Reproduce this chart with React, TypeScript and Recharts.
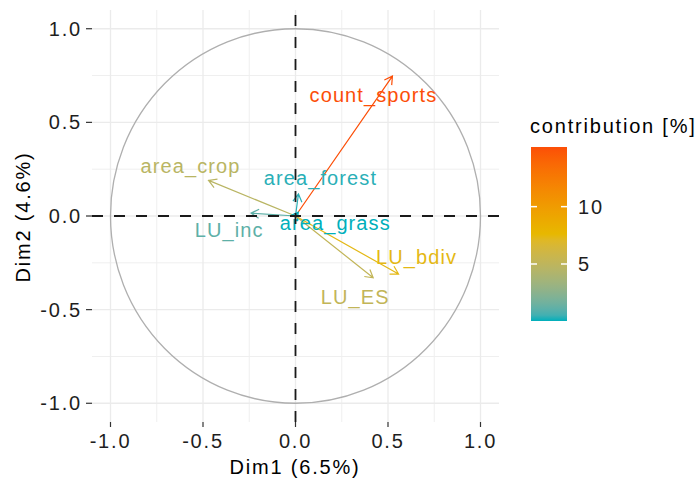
import React from 'react';
import { ComposedChart, XAxis, YAxis, Scatter, ReferenceLine } from 'recharts';

// ---------- data ----------
const variables = ['count_sports', 'area_crop', 'area_forest', 'LU_inc', 'area_grass', 'LU_bdiv', 'LU_ES'];
const dim1 = [0.524, -0.47, 0.016, -0.24, 0.015, 0.557, 0.42];
const dim2 = [0.747, 0.19, 0.118, 0.015, 0.02, -0.31, -0.33];
const contrib = [15.2, 4.7, 0.25, 1.1, 0.03, 7.4, 5.2];
const axisTicks = [-1, -0.5, 0, 0.5, 1];
const minorGrid = [-0.75, -0.25, 0.25, 0.75];
const legendTicks = [5, 10];
const circleRadius = 1;

// ---------- layout / style (not data) ----------
const labelOffsets: [number, number][] = [
  [-19, 26], [-18, -7], [22, -9], [-22, 24], [37, 18], [18, -10], [-18, 26],
];
const gradientCols = ['#00AFBB', '#E7B800', '#FC4E07'];
const FONT = '"Liberation Sans", Arial, Helvetica, sans-serif';

// ---------- colour (Lab interpolation like ggplot) ----------
const hexToRgb = (h: string) => [1, 3, 5].map((i) => parseInt(h.slice(i, i + 2), 16));
const toLin = (c: number) => { c /= 255; return c <= 0.04045 ? c / 12.92 : Math.pow((c + 0.055) / 1.055, 2.4); };
const fromLin = (c: number) => {
  const v = c <= 0.0031308 ? 12.92 * c : 1.055 * Math.pow(c, 1 / 2.4) - 0.055;
  return Math.max(0, Math.min(255, Math.round(v * 255)));
};
const WX = 0.95047, WY = 1, WZ = 1.08883;
const fLab = (t: number) => (t > 0.008856 ? Math.cbrt(t) : 7.787 * t + 16 / 116);
const fInv = (t: number) => (t * t * t > 0.008856 ? t * t * t : (t - 16 / 116) / 7.787);
const rgbToLab = (rgb: number[]) => {
  const [r, g, b] = rgb.map(toLin);
  const X = (0.4124 * r + 0.3576 * g + 0.1805 * b) / WX;
  const Y = (0.2126 * r + 0.7152 * g + 0.0722 * b) / WY;
  const Z = (0.0193 * r + 0.1192 * g + 0.9505 * b) / WZ;
  const fx = fLab(X), fy = fLab(Y), fz = fLab(Z);
  return [116 * fy - 16, 500 * (fx - fy), 200 * (fy - fz)];
};
const labToHex = (lab: number[]) => {
  const fy = (lab[0] + 16) / 116;
  const fx = fy + lab[1] / 500;
  const fz = fy - lab[2] / 200;
  const X = fInv(fx) * WX, Y = fInv(fy) * WY, Z = fInv(fz) * WZ;
  const r = 3.2406 * X - 1.5372 * Y - 0.4986 * Z;
  const g = -0.9689 * X + 1.8758 * Y + 0.0415 * Z;
  const b = 0.0557 * X - 0.204 * Y + 1.057 * Z;
  return '#' + [r, g, b].map((c) => fromLin(c).toString(16).padStart(2, '0')).join('');
};
const labCols = gradientCols.map((c) => rgbToLab(hexToRgb(c)));
const cMin = Math.min(...contrib);
const cMax = Math.max(...contrib);
const colorAt = (t: number) => {
  const tt = Math.max(0, Math.min(1, t)) * (labCols.length - 1);
  const i = Math.min(labCols.length - 2, Math.floor(tt));
  const f = tt - i;
  const a = labCols[i], b = labCols[i + 1];
  return labToHex(a.map((v, k) => v + (b[k] - v) * f));
};
const colorOf = (v: number) => colorAt((v - cMin) / (cMax - cMin));

const points = variables.map((name, i) => ({ name, x: dim1[i], y: dim2[i], c: contrib[i] }));

// ---------- shapes ----------
const ArrowShape = (p: any) => {
  const { x1, y1, x2, y2, stroke } = p;
  const ang = Math.atan2(y2 - y1, x2 - x1);
  const L = 9;
  const a1 = ang + Math.PI - Math.PI / 6;
  const a2 = ang + Math.PI + Math.PI / 6;
  const d = `M${x1},${y1}L${x2},${y2}M${x2 + L * Math.cos(a1)},${y2 + L * Math.sin(a1)}L${x2},${y2}L${x2 + L * Math.cos(a2)},${y2 + L * Math.sin(a2)}`;
  return <path d={d} stroke={stroke} strokeWidth={1.2} fill="none" strokeLinejoin="miter" />;
};

const CircleShape = (p: any) => {
  const { x1, y1, x2, y2 } = p;
  return <ellipse cx={x1} cy={y1} rx={Math.abs(x2 - x1)} ry={Math.abs(y1 - y2)} fill="none" stroke="#AFAFAF" strokeWidth={1.3} />;
};

const makeLabel = (i: number) => (p: any) => {
  const { x2, y2 } = p;
  return (
    <text x={x2 + labelOffsets[i][0]} y={y2 + labelOffsets[i][1]} textAnchor="middle" fill={colorOf(contrib[i])}
      fontSize={20} fontFamily={FONT} style={{ letterSpacing: '1.1px' }}>
      {variables[i]}
    </text>
  );
};

// ---------- colourbar legend ----------
const BAR = { x: 531, y: 147, w: 36, h: 174 };
const barY = (v: number) => BAR.y + BAR.h - ((v - cMin) / (cMax - cMin)) * BAR.h;
const barStops = Array.from({ length: 31 }, (_, k) => k / 30);

export default function App() {
  return (
    <div style={{ position: 'absolute', left: 0, top: 0, width: 699, height: 482, background: '#fff', fontFamily: FONT }}>
      <style>{`.recharts-cartesian-axis-tick-value{letter-spacing:1.8px;}`}</style>
      <ComposedChart width={699} height={482} margin={{ top: 10, right: 200, bottom: 0, left: 0 }}>
        <XAxis type="number" dataKey="x" domain={[-1.1, 1.1]} ticks={axisTicks} allowDataOverflow
          tickFormatter={(v: number) => v.toFixed(1)} height={60} axisLine={false}
          tickLine={{ stroke: '#333', strokeWidth: 1.2 }} tickSize={5} tickMargin={7}
          tick={{ fill: '#1e1e1e', fontSize: 20 }} interval={0} />
        <YAxis type="number" dataKey="y" domain={[-1.1, 1.1]} ticks={axisTicks} allowDataOverflow
          tickFormatter={(v: number) => v.toFixed(1)} width={92} axisLine={false}
          tickLine={{ stroke: '#333', strokeWidth: 1.2 }} tickSize={6} tickMargin={4}
          tick={{ fill: '#1e1e1e', fontSize: 20 }} interval={0} />
        {minorGrid.map((v) => (
          <ReferenceLine key={'mx' + v} x={v} stroke="#EFEFEF" strokeWidth={1} />
        ))}
        {minorGrid.map((v) => (
          <ReferenceLine key={'my' + v} y={v} stroke="#EFEFEF" strokeWidth={1} />
        ))}
        {axisTicks.map((v) => (
          <ReferenceLine key={'gx' + v} x={v} stroke="#EBEBEB" strokeWidth={1.3} />
        ))}
        {axisTicks.map((v) => (
          <ReferenceLine key={'gy' + v} y={v} stroke="#EBEBEB" strokeWidth={1.3} />
        ))}
        <ReferenceLine segment={[{ x: 0, y: 0 }, { x: circleRadius, y: circleRadius }]} shape={CircleShape} />
        {points.map((pt, i) => (
          <ReferenceLine key={'a' + i} segment={[{ x: 0, y: 0 }, { x: pt.x, y: pt.y }]} stroke={colorOf(pt.c)} shape={ArrowShape} />
        ))}
        {points.map((pt, i) => (
          <ReferenceLine key={'l' + i} segment={[{ x: 0, y: 0 }, { x: pt.x, y: pt.y }]} shape={makeLabel(i)} />
        ))}
        <Scatter data={points} dataKey="y" isAnimationActive={false} shape={() => <g />} />
        <ReferenceLine x={0} stroke="#1a1a1a" strokeWidth={1.8} strokeDasharray="11 11" />
        <ReferenceLine y={0} stroke="#1a1a1a" strokeWidth={1.8} strokeDasharray="11 11" />
      </ComposedChart>
      <svg width={699} height={482} style={{ position: 'absolute', left: 0, top: 0, pointerEvents: 'none' }}>
        <defs>
          <linearGradient id="cbar" x1="0" y1="1" x2="0" y2="0">
            {barStops.map((t) => (
              <stop key={t} offset={t} stopColor={colorAt(t)} />
            ))}
          </linearGradient>
        </defs>
        <text x={295} y={474} textAnchor="middle" fontSize={20} fill="#000" style={{ letterSpacing: '1.8px' }}>Dim1 (6.5%)</text>
        <text x={30} y={217} textAnchor="middle" fontSize={20} fill="#000" transform="rotate(-90 30 217)" style={{ letterSpacing: '1.8px' }}>Dim2 (4.6%)</text>
        <text x={530} y={133} fontSize={20} fill="#000" style={{ letterSpacing: '1.8px' }}>contribution [%]</text>
        <rect x={BAR.x} y={BAR.y} width={BAR.w} height={BAR.h} fill="url(#cbar)" />
        {legendTicks.map((v) => (
          <g key={v}>
            <line x1={BAR.x} x2={BAR.x + 6} y1={barY(v)} y2={barY(v)} stroke="#fff" strokeWidth={1.5} />
            <line x1={BAR.x + BAR.w - 6} x2={BAR.x + BAR.w} y1={barY(v)} y2={barY(v)} stroke="#fff" strokeWidth={1.5} />
            <text x={578} y={barY(v) + 7} fontSize={20} fill="#1e1e1e" style={{ letterSpacing: '1.8px' }}>{v}</text>
          </g>
        ))}
      </svg>
    </div>
  );
}
